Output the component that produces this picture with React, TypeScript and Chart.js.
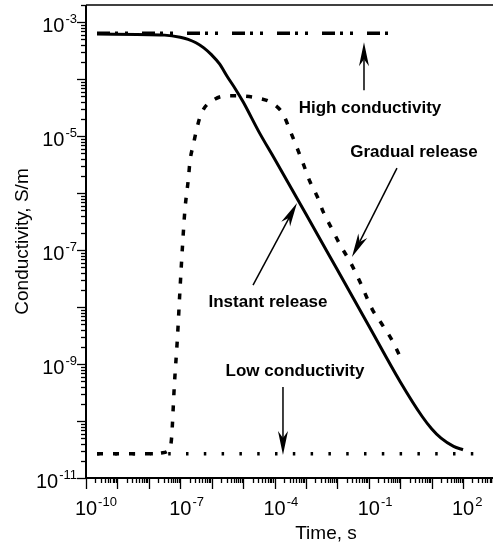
import React, { useEffect, useRef } from "react";
import { Chart, registerables } from "chart.js";

Chart.register(...registerables);

const FONT = '"Liberation Sans", Arial, sans-serif';

// Instant release (solid line)
const instantTime = [2.24e-10, 3.16e-8, 1e-7, 1.78e-7, 3.16e-7, 5.62e-7, 1e-6, 1.78e-6, 3.16e-6, 5.62e-6, 1e-5, 3.16e-5, 1e-4, 1e-3, 1e-2, 0.1, 1, 5.01, 10, 20, 50.1, 100];
const instantCond = [6.17e-4, 5.92e-4, 5.45e-4, 5.0e-4, 4.35e-4, 3.54e-4, 2.66e-4, 1.85e-4, 1.1e-4, 6.8e-5, 4.0e-5, 1.2e-5, 4.0e-6, 4.3e-7, 4.5e-8, 4.7e-9, 4.9e-10, 1.2e-10, 7.34e-11, 5.0e-11, 3.59e-11, 3.13e-11];

// Gradual release (dotted line)
const gradualTime = [2.24e-10, 1e-8, 2.51e-8, 3.98e-8, 4.9e-8, 5.37e-8, 6.46e-8, 8.13e-8, 9.77e-8, 1.2e-7, 1.41e-7, 1.82e-7, 2.04e-7, 2.63e-7, 3.39e-7, 4.79e-7, 1.29e-6, 3.89e-6, 2.82e-5, 8.32e-5, 1.86e-4, 3.16e-4, 5.25e-4, 8.13e-4, 1.35e-3, 2.29e-3, 3.55e-3, 6.76e-3, 1.23e-2, 2.57e-2, 5.37e-2, 0.129, 0.269, 0.562, 0.933];
const gradualCond = [2.66e-11, 2.66e-11, 2.75e-11, 2.95e-11, 3.55e-11, 5.62e-11, 4.07e-10, 2.88e-9, 1.95e-8, 1.38e-7, 5.13e-7, 1.82e-6, 3.63e-6, 7.24e-6, 1.38e-5, 2.57e-5, 4.47e-5, 5.13e-5, 4.68e-5, 3.8e-5, 2.45e-5, 1.23e-5, 6.17e-6, 3.31e-6, 1.58e-6, 8.71e-7, 4.68e-7, 2.34e-7, 1.23e-7, 6.17e-8, 2.69e-8, 9.12e-9, 4.9e-9, 2.57e-9, 1.45e-9];

// High conductivity (dash-dot-dot)
const highTime = [2.24e-10, 0.473];
const highCond = [6.4e-4, 6.4e-4];

// Low conductivity (dotted)
const lowTime = [2.24e-10, 468];
const lowCond = [2.66e-11, 2.66e-11];

// Axis ticks
const xLabelExps = [-10, -7, -4, -1, 2];
const yLabelExps = [-3, -5, -7, -9, -11];
const xTitle = "Time, s";
const yTitle = "Conductivity, S/m";

// Annotations (data coordinates)
const annLabels = ["High conductivity", "Gradual release", "Instant release", "Low conductivity"];
const annLabelTime = [0.109, 2.75, 6.2e-5, 4.49e-4];
const annLabelCond = [2.54e-5, 4.28e-6, 1.0e-8, 6.17e-10];
const arrowFromTime = [7.05e-2, 0.79, 2.07e-5, 1.86e-4];
const arrowFromCond = [6.41e-5, 2.75e-6, 2.43e-8, 3.94e-10];
const arrowToTime = [7.05e-2, 2.92e-2, 5.19e-4, 1.86e-4];
const arrowToCond = [4.46e-4, 7.53e-8, 6.68e-7, 2.54e-11];

const pts = (xs: number[], ys: number[]) => xs.map((x, i) => ({ x, y: ys[i] }));

const drawPow = (ctx: CanvasRenderingContext2D, exp: number, x: number, y: number, mode: "center" | "right") => {
  const base = "10";
  const sup = String(exp);
  ctx.font = `20px ${FONT}`;
  const w1 = ctx.measureText(base).width;
  ctx.font = `13px ${FONT}`;
  const w2 = ctx.measureText(sup).width;
  let x0: number;
  if (mode === "center") x0 = x - w1 / 2;
  else x0 = x - w1 - w2 - 1;
  ctx.textAlign = "left";
  ctx.textBaseline = "alphabetic";
  ctx.font = `20px ${FONT}`;
  ctx.fillText(base, x0, y);
  ctx.font = `13px ${FONT}`;
  ctx.fillText(sup, x0 + w1 + 1, y - 9);
};

const drawArrow = (ctx: CanvasRenderingContext2D, x1: number, y1: number, x2: number, y2: number) => {
  const dx = x2 - x1, dy = y2 - y1;
  const len = Math.hypot(dx, dy);
  const ux = dx / len, uy = dy / len;
  const px = -uy, py = ux;
  const L = 24, hw = 5, notch = 7;
  ctx.lineWidth = 1.5;
  ctx.beginPath();
  ctx.moveTo(x1, y1);
  ctx.lineTo(x2 - ux * (L - notch), y2 - uy * (L - notch));
  ctx.stroke();
  ctx.beginPath();
  ctx.moveTo(x2, y2);
  ctx.lineTo(x2 - ux * L + px * hw, y2 - uy * L + py * hw);
  ctx.lineTo(x2 - ux * (L - notch), y2 - uy * (L - notch));
  ctx.lineTo(x2 - ux * L - px * hw, y2 - uy * L - py * hw);
  ctx.closePath();
  ctx.fill();
};

const decorPlugin = {
  id: "decor",
  afterDraw(chart: any) {
    const ctx: CanvasRenderingContext2D = chart.ctx;
    const xs = chart.scales.x;
    const ys = chart.scales.y;
    const { left, right, top, bottom } = chart.chartArea;
    ctx.save();
    ctx.strokeStyle = "#000";
    ctx.fillStyle = "#000";
    // axes lines
    ctx.lineWidth = 2;
    ctx.beginPath();
    ctx.moveTo(left, top);
    ctx.lineTo(left, bottom);
    ctx.lineTo(right, bottom);
    ctx.stroke();
    ctx.lineWidth = 1.5;
    ctx.beginPath();
    ctx.moveTo(left, top);
    ctx.lineTo(right, top);
    ctx.stroke();
    // x ticks
    ctx.lineWidth = 1.3;
    for (let e = -10; e <= 3; e++) {
      for (let m = 1; m < 10; m++) {
        const v = m * Math.pow(10, e);
        if (v < xs.min * 0.999 || v > xs.max) continue;
        const p = Math.round(xs.getPixelForValue(v)) + 0.5;
        const l = m === 1 ? 11 : 5;
        ctx.beginPath();
        ctx.moveTo(p, bottom);
        ctx.lineTo(p, bottom + l);
        ctx.stroke();
      }
    }
    // y ticks
    for (let e = -11; e <= -3; e++) {
      for (let m = 1; m < 10; m++) {
        const v = m * Math.pow(10, e);
        if (v < ys.min * 0.999 || v > ys.max) continue;
        const p = Math.round(ys.getPixelForValue(v)) + 0.5;
        const l = m === 1 ? 9 : 5;
        ctx.beginPath();
        ctx.moveTo(left, p);
        ctx.lineTo(left - l, p);
        ctx.stroke();
      }
    }
    // tick labels
    xLabelExps.forEach((e) => {
      const p = xs.getPixelForValue(Math.pow(10, e));
      drawPow(ctx, e, p, bottom + 37, "center");
    });
    yLabelExps.forEach((e) => {
      const p = ys.getPixelForValue(Math.pow(10, e));
      drawPow(ctx, e, 77, p + 10, "right");
    });
    // axis titles
    ctx.font = `19px ${FONT}`;
    ctx.textAlign = "center";
    ctx.textBaseline = "alphabetic";
    ctx.fillText(xTitle, 326, bottom + 61);
    ctx.save();
    ctx.translate(28, (top + bottom) / 2);
    ctx.rotate(-Math.PI / 2);
    ctx.fillText(yTitle, 0, 0);
    ctx.restore();
    // annotations
    ctx.font = `bold 17px ${FONT}`;
    ctx.textAlign = "center";
    annLabels.forEach((t, i) => {
      ctx.fillText(t, xs.getPixelForValue(annLabelTime[i]), ys.getPixelForValue(annLabelCond[i]));
    });
    annLabels.forEach((_, i) => {
      drawArrow(
        ctx,
        xs.getPixelForValue(arrowFromTime[i]),
        ys.getPixelForValue(arrowFromCond[i]),
        xs.getPixelForValue(arrowToTime[i]),
        ys.getPixelForValue(arrowToCond[i])
      );
    });
    ctx.restore();
  },
};

export default function App() {
  const ref = useRef<HTMLCanvasElement>(null);
  useEffect(() => {
    if (!ref.current) return;
    const chart = new Chart(ref.current, {
      type: "line",
      data: {
        datasets: [
          {
            label: "High conductivity",
            data: pts(highTime, highCond),
            borderColor: "#000",
            borderWidth: 3.5,
            borderDash: [13, 5, 3, 7, 3, 14],
            pointRadius: 0,
            fill: false,
          },
          {
            label: "Instant release",
            data: pts(instantTime, instantCond),
            borderColor: "#000",
            borderWidth: 3,
            pointRadius: 0,
            cubicInterpolationMode: "monotone",
            fill: false,
          },
          {
            label: "Gradual release",
            data: pts(gradualTime, gradualCond),
            borderColor: "#000",
            borderWidth: 3.5,
            borderDash: [6, 10],
            pointRadius: 0,
            cubicInterpolationMode: "monotone",
            fill: false,
          },
          {
            label: "Low conductivity",
            data: pts(lowTime, lowCond),
            borderColor: "#000",
            borderWidth: 3.5,
            borderDash: [2.5, 15.3],
            pointRadius: 0,
            fill: false,
          },
        ],
      },
      options: {
        animation: false,
        responsive: false,
        devicePixelRatio: 1,
        layout: { padding: { top: 5, left: 0, right: 0, bottom: 0 } },
        plugins: { legend: { display: false }, tooltip: { enabled: false } },
        scales: {
          x: {
            type: "logarithmic",
            min: 1e-10,
            max: 900,
            ticks: { display: false },
            grid: { display: false },
            border: { display: false },
            afterFit: (s: any) => {
              s.height = 66;
            },
          },
          y: {
            type: "logarithmic",
            min: 1e-11,
            max: 2e-3,
            ticks: { display: false },
            grid: { display: false },
            border: { display: false },
            afterFit: (s: any) => {
              s.width = 86;
            },
          },
        },
      },
      plugins: [decorPlugin],
    } as any);
    return () => chart.destroy();
  }, []);
  return (
    <div style={{ position: "fixed", left: 0, top: 0, width: 493, height: 544, background: "#fff" }}>
      <canvas ref={ref} width={493} height={544} style={{ width: 493, height: 544 }} />
    </div>
  );
}
